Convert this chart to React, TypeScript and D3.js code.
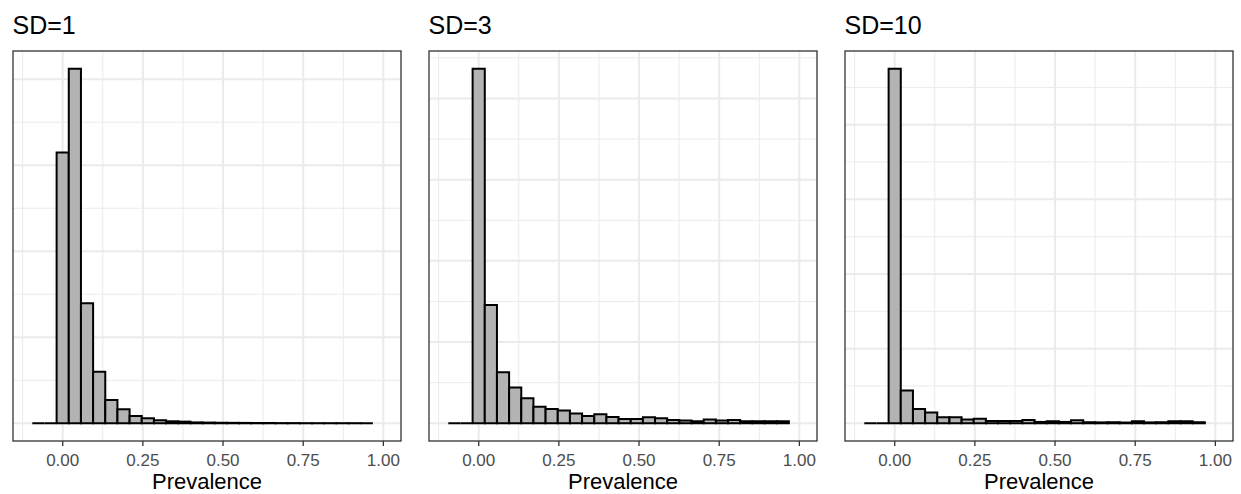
import React from "react";
import * as d3 from "d3";

// Histogram definition (ggplot2: bins = 30 over x limits [-0.1, 1]; bins crossing the limits removed)
const xLimits: [number, number] = [-0.1, 1];
const nBins = 30;
const binWidth = (xLimits[1] - xLimits[0]) / (nBins - 1);
const firstEdge = -2.5 * binWidth; // first kept bin's left edge

const panelTitles = ["SD=1", "SD=3", "SD=10"];

// counts per bin (28 kept bins)
const countsSD1 = [0, 0, 3147, 4122, 1395, 600, 271, 163, 85, 58, 35, 23, 19, 10, 8, 6, 5, 4, 3, 3, 2, 2, 1, 1, 1, 1, 1, 0];
const countsSD3 = [0, 0, 4366, 1457, 628, 439, 308, 205, 177, 156, 119, 90, 111, 78, 53, 53, 74, 62, 41, 33, 25, 45, 33, 41, 25, 25, 25, 25];
const countsSD10 = [0, 0, 4750, 438, 190, 145, 81, 81, 50, 59, 32, 32, 32, 45, 18, 27, 18, 41, 14, 12, 14, 10, 27, 12, 14, 27, 27, 14];

const xTicks = [0, 0.25, 0.5, 0.75, 1.0];
const xMinor = [-0.125, 0.125, 0.375, 0.625, 0.875];
const yStep = 1000;
const xTitle = "Prevalence";

const W = 1241;
const H = 494;
const panelLefts = [13, 429, 845];
const panelW = 388;
const panelTop = 51;
const panelBottom = 441;
const FONT = "'Liberation Sans', Arial, Helvetica, sans-serif";

function Panel({ left, title, counts }: { left: number; title: string; counts: number[] }) {
  const expandX = 0.05 * (xLimits[1] - xLimits[0]);
  const x = d3
    .scaleLinear()
    .domain([xLimits[0] - expandX, xLimits[1] + expandX])
    .range([left, left + panelW]);
  const maxC = d3.max(counts) as number;
  const y = d3
    .scaleLinear()
    .domain([-0.05 * maxC, 1.05 * maxC])
    .range([panelBottom, panelTop]);
  const [lo, hi] = y.domain();
  const majors = d3.range(0, hi + 1e-9, yStep).filter((v) => v >= lo && v <= hi);
  const ext = [majors[0] - yStep, ...majors, majors[majors.length - 1] + yStep];
  const minors: number[] = [];
  for (let i = 0; i < ext.length - 1; i++) {
    const m = (ext[i] + ext[i + 1]) / 2;
    if (m >= lo && m <= hi) minors.push(m);
  }
  const fmt = d3.format(".2f");
  const grid = "#EBEBEB";
  return (
    <g>
      <text x={left - 0.5} y={34} fontFamily={FONT} fontSize={25} fill="#000">
        {title}
      </text>
      <rect x={left} y={panelTop} width={panelW} height={panelBottom - panelTop} fill="#fff" />
      {minors.map((v) => (
        <line key={"ym" + v} x1={left} x2={left + panelW} y1={y(v)} y2={y(v)} stroke={grid} strokeWidth={1} />
      ))}
      {xMinor.map((v) => (
        <line key={"xm" + v} x1={x(v)} x2={x(v)} y1={panelTop} y2={panelBottom} stroke={grid} strokeWidth={1} />
      ))}
      {majors.map((v) => (
        <line key={"yM" + v} x1={left} x2={left + panelW} y1={y(v)} y2={y(v)} stroke={grid} strokeWidth={2} />
      ))}
      {xTicks.map((v) => (
        <line key={"xM" + v} x1={x(v)} x2={x(v)} y1={panelTop} y2={panelBottom} stroke={grid} strokeWidth={2} />
      ))}
      {counts.map((c, i) => {
        const x0 = x(firstEdge + i * binWidth);
        const x1 = x(firstEdge + (i + 1) * binWidth);
        const yb = y(0);
        const yt = y(c);
        const p = d3.path();
        p.moveTo(x0, yb);
        p.lineTo(x0, yt);
        p.lineTo(x1, yt);
        p.lineTo(x1, yb);
        p.closePath();
        return (
          <path
            key={"b" + i}
            d={p.toString()}
            fill="#B3B3B3"
            stroke="#000"
            strokeWidth={2}
            strokeLinejoin="miter"
          />
        );
      })}
      <rect
        x={left}
        y={panelTop}
        width={panelW}
        height={panelBottom - panelTop}
        fill="none"
        stroke="#333333"
        strokeWidth={1.3}
      />
      {xTicks.map((v) => (
        <g key={"t" + v}>
          <line x1={x(v)} x2={x(v)} y1={panelBottom} y2={panelBottom + 5} stroke="#333333" strokeWidth={1.3} />
          <text x={x(v)} y={465.5} textAnchor="middle" fontFamily={FONT} fontSize={17} fill="#4D4D4D">
            {fmt(v)}
          </text>
        </g>
      ))}
      <text x={left + panelW / 2} y={489} textAnchor="middle" fontFamily={FONT} fontSize={22} fill="#000">
        {xTitle}
      </text>
    </g>
  );
}

export default function App() {
  const allCounts = [countsSD1, countsSD3, countsSD10];
  return (
    <svg
      width={W}
      height={H}
      style={{ position: "absolute", left: 0, top: 0, background: "#fff" }}
      xmlns="http://www.w3.org/2000/svg"
    >
      <rect x={0} y={0} width={W} height={H} fill="#fff" />
      {panelTitles.map((t, i) => (
        <Panel key={t} left={panelLefts[i]} title={t} counts={allCounts[i]} />
      ))}
    </svg>
  );
}
